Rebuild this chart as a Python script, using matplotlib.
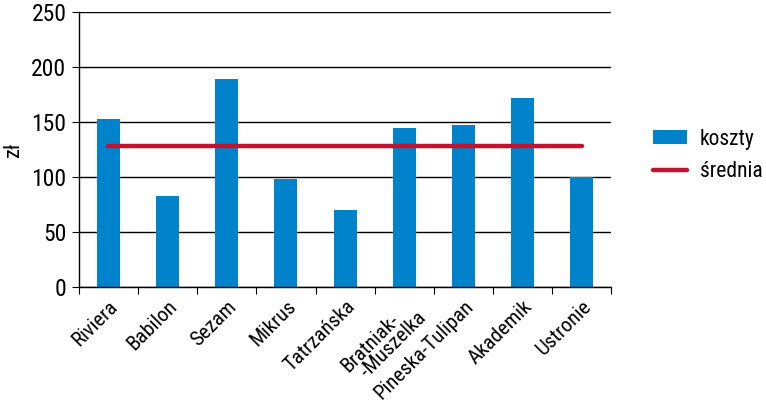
import matplotlib.pyplot as plt
import numpy as np

plt.rcParams['font.family'] = ['Roboto Condensed', 'Liberation Sans Narrow',
                               'Liberation Sans', 'DejaVu Sans']
plt.rcParams['font.size'] = 16

# data
hotels = ['Riviera', 'Babilon', 'Sezam', 'Mikrus', 'Tatrzańska',
          'Bratniak-\n  -Muszelka', 'Pineska-Tulipan', 'Akademik', 'Ustronie']
koszty = [153, 83, 189, 98, 70, 145, 147, 172, 100]
srednia = np.mean(koszty)

bar_color = '#0083ca'
line_color = '#c8102e'

fig = plt.figure(figsize=(7.66, 4.05), dpi=100)
ax = fig.add_axes([0.103, 0.291, 0.695, 0.679])

x = np.arange(len(hotels))
bars = ax.bar(x, koszty, 0.39, color=bar_color, label='koszty', zorder=2)
line, = ax.plot([x[0], x[-1]], [srednia, srednia], color=line_color, lw=3.2,
                solid_capstyle='round', label='średnia', zorder=3)

ax.set_xlim(-0.5, len(hotels) - 0.5)
ax.set_ylim(0, 250)
ax.set_yticks(np.arange(0, 251, 50))
ax.grid(axis='y', color='black', lw=1.0, zorder=0)
ax.set_axisbelow(True)

# ticks between categories, labels under the bars
ax.set_xticks(np.arange(len(hotels) + 1) - 0.5)
ax.set_xticklabels([])
ax.set_xticks(x, minor=True)
labels = ax.set_xticklabels(hotels, minor=True, rotation=45, ha='right',
                            rotation_mode='anchor', linespacing=0.85,
                            fontsize=15)
for t in labels:
    t.set_multialignment('left')
ax.tick_params(axis='x', which='minor', length=0, pad=7)
ax.tick_params(axis='x', which='major', length=5, color='black')
ax.tick_params(axis='y', length=5, color='black', pad=4, labelsize=17)

for s in ['top', 'right']:
    ax.spines[s].set_visible(False)
for s in ['left', 'bottom']:
    ax.spines[s].set_color('black')
    ax.spines[s].set_linewidth(1.0)

ax.set_ylabel('zł', labelpad=5, fontsize=16)

fig.legend([bars, line], ['koszty', 'średnia'], loc='center left',
           bbox_to_anchor=(0.852, 0.616), frameon=False, borderpad=0,
           borderaxespad=0, handlelength=1.6, handleheight=0.65,
           fontsize=15.5, labelspacing=0.55, handletextpad=0.6)

plt.savefig('out.png', dpi=100)
